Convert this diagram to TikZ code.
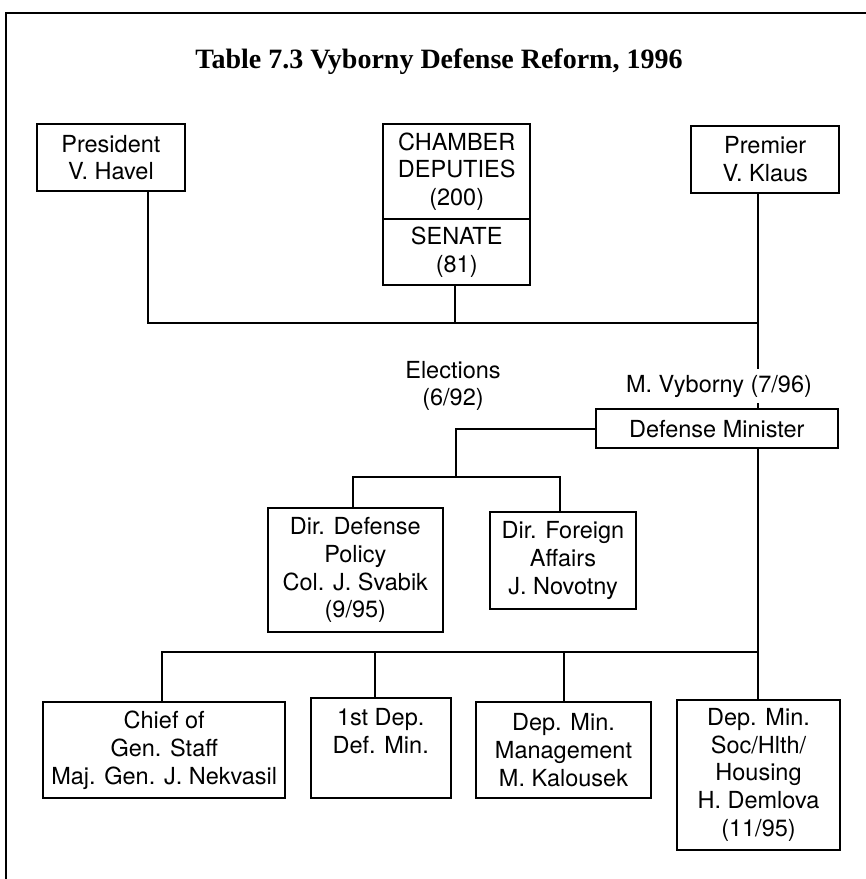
\documentclass[tikz,border=0pt]{standalone}
\usepackage{fontspec}
\setmainfont{TeX Gyre Heros}
\newfontfamily\titlefont{Liberation Serif}
\begin{document}
\begin{tikzpicture}[x=1pt,y=-1pt,
  box/.style={draw, line width=2.2pt, inner sep=0pt, align=center,
    font=\fontsize{23.5}{27.7}\selectfont},
  txt/.style={align=center, inner sep=0pt, font=\fontsize{23.5}{27.7}\selectfont},
  link/.style={line width=2pt, line join=miter}]
\useasboundingbox (0,0) rectangle (866,879);

% frame
\draw[line width=2.4pt] (6,879) -- (6,13) -- (866,13);

% title
\node[inner sep=0pt, anchor=base, font=\titlefont\bfseries\fontsize{28}{32}\selectfont]
  (title) at (439,68) {Table 7.3 Vyborny Defense Reform, 1996};

% top row
\node[box, minimum width=148pt, minimum height=67pt] (pres) at (110.9,157.5) {President\\V. Havel};
\node[box, minimum width=146.7pt, minimum height=95.3pt] (cham) at (456.7,171.7) {CHAMBER\\DEPUTIES\\(200)};
\node[box, minimum width=146.7pt, minimum height=65.7pt] (sen) at (456.7,252.2) {SENATE\\(81)};
\node[box, minimum width=148pt, minimum height=66.7pt] (prem) at (765.2,159.3) {Premier\\V. Klaus};

% minister
\node[box, minimum width=241.7pt, minimum height=39pt] (dm) at (716.8,428.8) {Defense Minister};
\node[txt] (elec) at (453,386) {Elections\\(6/92)};

% directors
\node[box, minimum width=174.7pt, minimum height=124pt] (ddp) at (355.3,570.3)
  {Dir. Defense\\Policy\\Col. J. Svabik\\(9/95)};
\node[box, minimum width=146pt, minimum height=97.3pt] (dfa) at (563,560.3)
  {Dir. Foreign\\Affairs\\J. Novotny};

% deputies
\node[box, minimum width=241.7pt, minimum height=96pt] (chief) at (164.2,750.3)
  {Chief of\\Gen. Staff\\Maj. Gen. J. Nekvasil};
\node[box, minimum width=140pt, minimum height=100pt] (dep1) at (380.7,748.3) {};
\node[txt] (dep1t) at (380.7,731) {1st Dep.\\Def. Min.};
\node[box, minimum width=175pt, minimum height=95.5pt] (mgmt) at (563.5,750)
  {Dep. Min.\\Management\\M. Kalousek};
\node[box, minimum width=163.6pt, minimum height=150.3pt] (soc) at (758.5,774.8)
  {Dep. Min.\\Soc/Hlth/\\Housing\\H. Demlova\\(11/95)};

% junction points
\coordinate (pl) at (147.7,323);
\coordinate (cl) at (454.5,323);
\coordinate (tr) at (757.7,323);
\coordinate (br) at (455.7,476.7);
\coordinate (bl) at (352.7,476.7);
\coordinate (brr) at (560,476.7);
\coordinate (b1) at (162.3,652.3);
\coordinate (b2) at (375,652.3);
\coordinate (b3) at (564,652.3);
\coordinate (b4) at (757.7,652.3);

% connectors
\draw[link] (pl |- pres.south) -- (pl) -- (tr);
\draw[link] (cl |- sen.south) -- (cl);
\draw[link] (tr |- prem.south) -- (tr |- dm.north);
\node[txt, fill=white, inner xsep=2pt, inner ysep=6pt] (vyb) at (719,386) {M. Vyborny (7/96)};
\draw[link] (dm.west) -- (br |- dm.west) -- (br);
\draw[link] (bl |- ddp.north) -- (bl) -- (brr) -- (brr |- dfa.north);
\draw[link] (tr |- dm.south) -- (b4) -- (b4 |- soc.north);
\draw[link] (b4) -- (b1) -- (b1 |- chief.north);
\draw[link] (b2) -- (b2 |- dep1.north);
\draw[link] (b3) -- (b3 |- mgmt.north);
\end{tikzpicture}
\end{document}
